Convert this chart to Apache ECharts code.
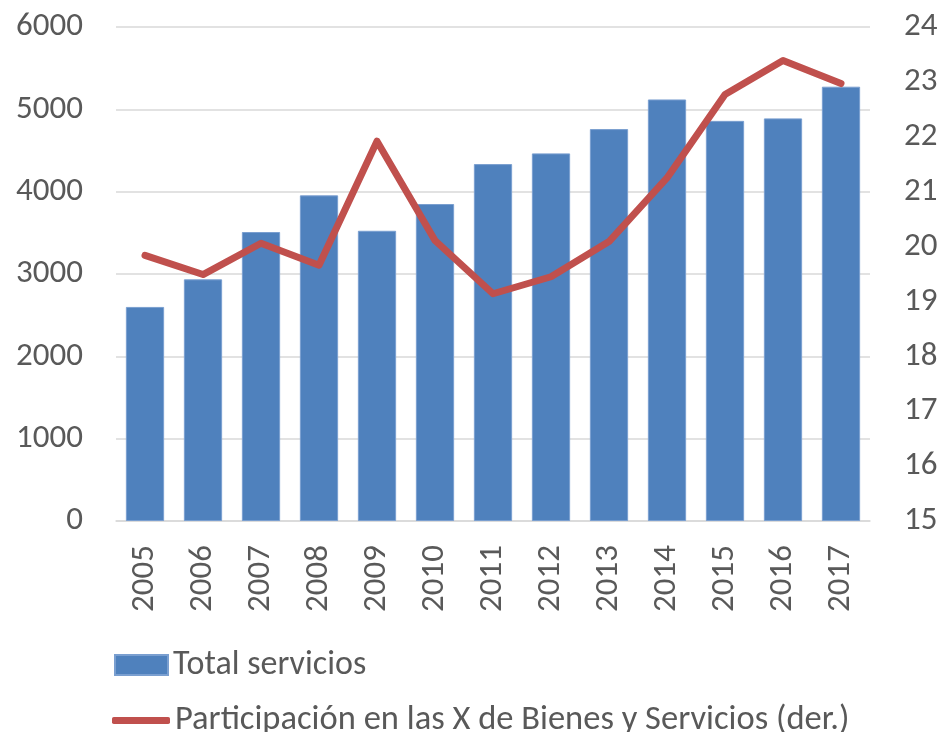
<!DOCTYPE html>
<html>
<head>
<meta charset="utf-8">
<title>Total servicios</title>
<script src="https://cdn.jsdelivr.net/npm/echarts@6/dist/echarts.min.js"></script>
<style>
  html, body { margin: 0; padding: 0; background: #fff; }
  #chart { width: 941px; height: 732px; }
</style>
</head>
<body>
<div id="chart"></div>
<script>
// datos
const years = ['2005', '2006', '2007', '2008', '2009', '2010', '2011', '2012', '2013', '2014', '2015', '2016', '2017']
const totalServicios = [2600, 2935, 3510, 3955, 3525, 3850, 4335, 4465, 4760, 5120, 4860, 4890, 5275]
const participacion = [19.84, 19.49, 20.06, 19.66, 21.92, 20.11, 19.14, 19.45, 20.09, 21.25, 22.77, 23.39, 22.97]

const font = 'Carlito, "Open Sans", "Liberation Sans", sans-serif'
const txt = '#595959'
const fs = 33

let myChart = echarts.init(document.getElementById('chart'))
myChart.setOption({
  animation: false,
  textStyle: { fontFamily: font },
  grid: {
    left: 116,
    right: 71,
    top: 27,
    bottom: 211
  },
  legend: [
    {
      data: [{ name: 'Total servicios', icon: 'rect' }],
      left: 109,
      top: 643,
      itemWidth: 53,
      itemHeight: 20,
      itemGap: 4,
      textStyle: { color: txt, fontSize: 34, fontFamily: font }
    },
    {
      data: [{ name: 'Participación en las X de Bienes y Servicios (der.)', icon: 'roundRect' }],
      left: 107,
      top: 698,
      itemWidth: 58,
      itemHeight: 7,
      itemGap: 4,
      textStyle: { color: txt, fontSize: 34.5, fontFamily: font }
    }
  ],
  xAxis: {
    type: 'category',
    data: years,
    axisTick: { show: false },
    axisLine: { lineStyle: { color: '#D9D9D9', width: 1.5 } },
    axisLabel: {
      rotate: 90,
      margin: 24,
      color: txt,
      fontSize: fs,
      fontFamily: font
    }
  },
  yAxis: [
    {
      type: 'value',
      min: 0,
      max: 6000,
      interval: 1000,
      axisLabel: { color: txt, fontSize: fs, margin: 33, fontFamily: font, formatter: v => String(v) },
      splitLine: { lineStyle: { color: '#D9D9D9', width: 1.5 } }
    },
    {
      type: 'value',
      min: 15,
      max: 24,
      interval: 1,
      position: 'right',
      axisLabel: { color: txt, fontSize: fs, margin: 34, fontFamily: font, formatter: v => String(v) },
      splitLine: { show: false }
    }
  ],
  series: [
    {
      name: 'Total servicios',
      type: 'bar',
      data: totalServicios,
      barCategoryGap: '34%',
      itemStyle: { color: '#4F81BD', borderColor: '#7A9FD0', borderWidth: 1 }
    },
    {
      name: 'Participación en las X de Bienes y Servicios (der.)',
      type: 'line',
      yAxisIndex: 1,
      data: participacion,
      symbol: 'none',
      itemStyle: { color: '#C0504D' },
      lineStyle: { color: '#C0504D', width: 7, cap: 'round', join: 'round' }
    }
  ]
})
</script>
</body>
</html>
